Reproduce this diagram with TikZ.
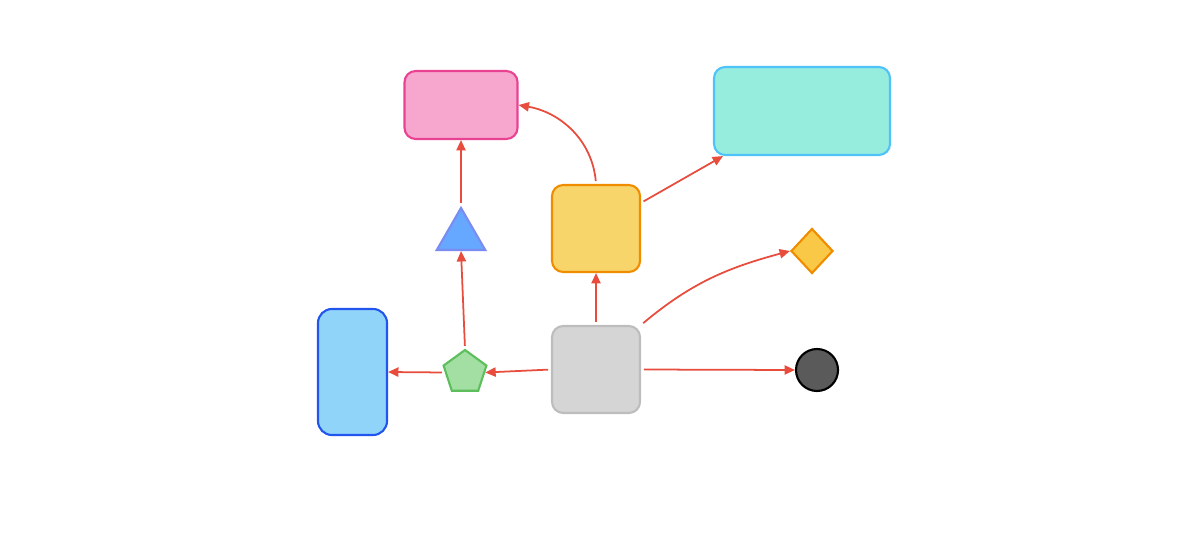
\documentclass[tikz,border=0pt]{standalone}
\usepackage{tikz}
\usetikzlibrary{
    arrows.meta,
    positioning,
    shapes.geometric
}
\definecolor{linkred}{RGB}{231,76,60}
\definecolor{pinkfill}{RGB}{247,166,206}
\definecolor{pinkline}{RGB}{232,67,147}
\definecolor{tealfill}{RGB}{150,237,221}
\definecolor{tealline}{RGB}{79,195,247}
\definecolor{yellowfill}{RGB}{247,213,106}
\definecolor{orangeline}{RGB}{240,140,0}
\definecolor{trifill}{RGB}{102,168,255}
\definecolor{triline}{RGB}{123,140,240}
\definecolor{diafill}{RGB}{249,200,70}
\definecolor{bluefill}{RGB}{144,213,249}
\definecolor{blueline}{RGB}{34,85,238}
\definecolor{greenfill}{RGB}{163,222,163}
\definecolor{greenline}{RGB}{92,191,92}
\definecolor{grayfill}{RGB}{213,213,213}
\definecolor{grayline}{RGB}{189,189,189}
\definecolor{darkfill}{RGB}{90,90,90}
\tikzset{
    % --- Rounded box (empty card) ---
    card/.style = {
        rectangle, draw, line width=1.5pt,
        rounded corners=0.28cm, inner sep=0pt
    },
    % --- Small geometric marker ---
    marker/.style = {
        draw, line width=1.5pt, inner sep=0pt
    },
    % --- Connection arrow ---
    link/.style = {
        ->, draw=linkred, line width=1.25pt, shorten <=2pt
    }
}

\begin{document}
\begin{tikzpicture}[
    x=0.025cm, y=0.025cm,
    >={Triangle[length=2.6mm,width=2.3mm]}
]
\useasboundingbox (0,0) rectangle (1200,554);

% ---------------------------------------------------------
% 1. Boxes
% ---------------------------------------------------------
\node[card, fill=pinkfill, draw=pinkline, minimum width=2.825cm, minimum height=1.7cm] (Pink) at (461, 449) {};
\node[card, fill=tealfill, draw=tealline, minimum width=4.4cm, minimum height=2.2cm] (Teal) at (802, 443) {};
\node[card, fill=yellowfill, draw=orangeline, minimum width=2.2cm, minimum height=2.175cm] (Yellow) at (596, 325.5) {};
\node[card, fill=grayfill, draw=grayline, minimum width=2.2cm, minimum height=2.175cm] (Gray) at (596, 184.5) {};
\node[card, fill=bluefill, draw=blueline, minimum width=1.725cm, minimum height=3.15cm, rounded corners=0.35cm] (Blue) at (352.5, 182) {};

% ---------------------------------------------------------
% 2. Markers
% ---------------------------------------------------------
\node[marker, regular polygon, regular polygon sides=3, minimum size=1.4cm, fill=trifill, draw=triline] (Tri) at (461, 318) {};
\node[marker, regular polygon, regular polygon sides=5, minimum size=1.125cm, fill=greenfill, draw=greenline] (Penta) at (465, 181.5) {};
\node[marker, diamond, minimum width=1.05cm, minimum height=1.125cm, fill=diafill, draw=orangeline] (Dia) at (812, 303) {};
\node[marker, circle, minimum size=1.05cm, fill=darkfill, draw=black] (Dot) at (817, 184) {};

% ---------------------------------------------------------
% 3. Links
% ---------------------------------------------------------
\draw[link] (Gray.west) -- (Penta.east);
\draw[link] (Penta.west) -- (Blue.east);
\draw[link] (Penta.north) -- (Tri.south);
\draw[link] (Tri.north) -- (Pink.south);
\draw[link] (Gray.north) -- (Yellow.south);
\draw[link] (Yellow.north) to[out=95, in=-10] (Pink.east);
\draw[link] (Yellow) -- (Teal);
\draw[link] (Gray.north east) to[out=40, in=195] (Dia.west);
\draw[link] (Gray.east) -- (Dot.west);

\end{tikzpicture}
\end{document}
